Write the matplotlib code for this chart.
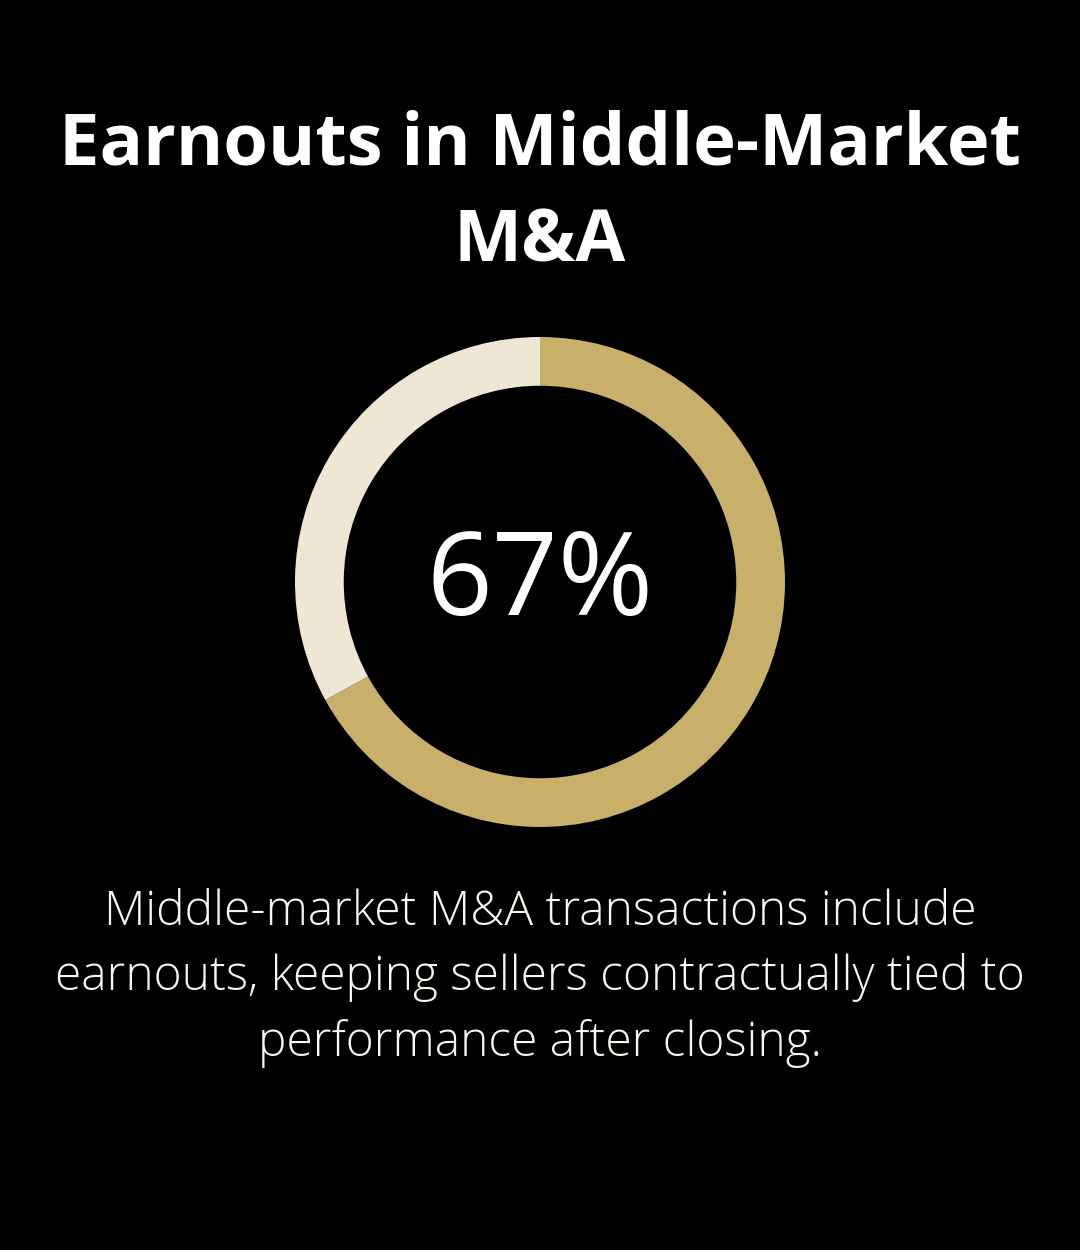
import matplotlib
matplotlib.use('Agg')
import matplotlib.pyplot as plt

title = 'Earnouts in Middle-Market\nM&A'
labels = ['Earnouts', 'Other']
shares = [67, 33]
center_label = '67%'
caption = ('Middle-market M&A transactions include\n'
           'earnouts, keeping sellers contractually tied to\n'
           'performance after closing.')
colors = ['#C8B06B', '#EFE7D4']

plt.rcParams['font.family'] = ['Open Sans', 'DejaVu Sans']

fig = plt.figure(figsize=(10.8, 12.5), dpi=100, facecolor='black')

ax = fig.add_axes([290 / 1080, 418 / 1250, 500 / 1080, 500 / 1250])
ax.set_facecolor('black')
ax.pie(shares, colors=colors, startangle=90, counterclock=False, radius=0.98,
       wedgeprops=dict(width=0.195, edgecolor='none'))
ax.set_xlim(-1, 1)
ax.set_ylim(-1, 1)
ax.set_aspect('equal')
ax.axis('off')
ax.text(0, -0.01, center_label, ha='center', va='center', color='white',
        fontsize=83, fontweight='medium')

fig.text(0.5, 1 - 194 / 1250, title, ha='center', va='center', color='white',
         fontsize=52, fontweight='bold', linespacing=1.47)
fig.text(0.5, 1 - 978 / 1250, caption, ha='center', va='center', color='#F9F6EF',
         fontsize=34.5, fontweight='light', linespacing=1.45)

fig.savefig('out.png', dpi=100, facecolor='black')
